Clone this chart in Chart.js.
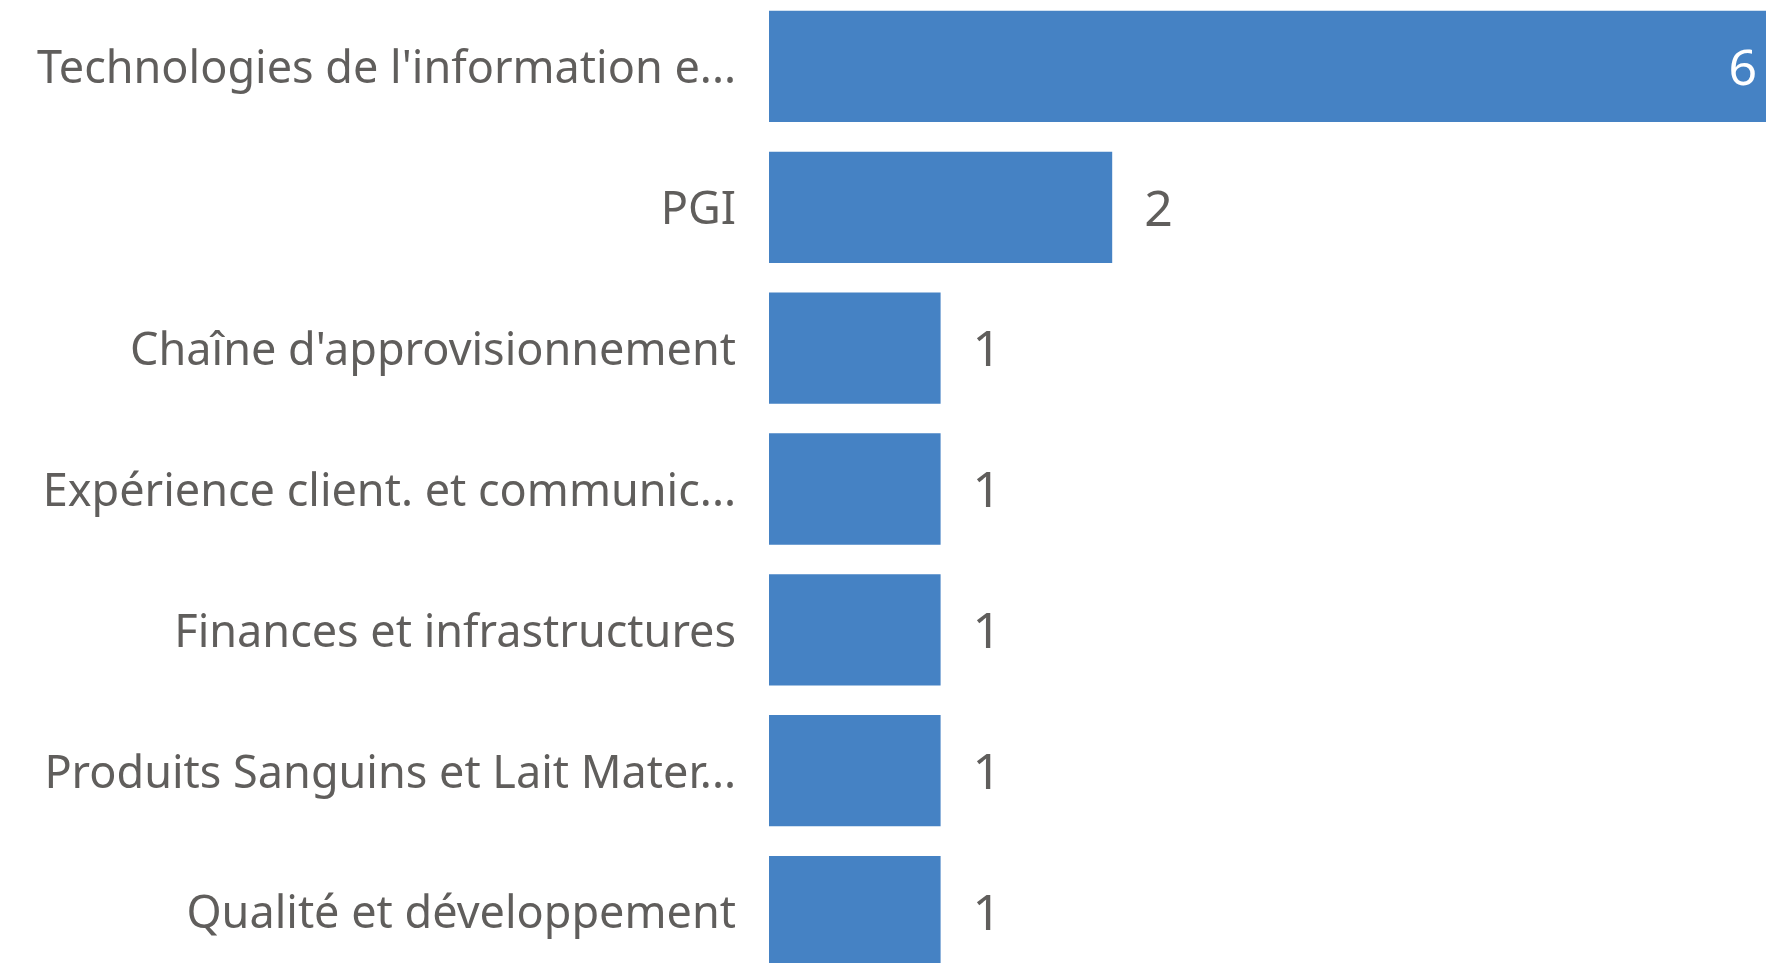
<!DOCTYPE html>
<html>
<head>
<meta charset="utf-8">
<script src="https://cdn.jsdelivr.net/npm/chart.js@4"></script>
<style>
  html, body { margin: 0; padding: 0; background: #fff; overflow: hidden; }
  #wrap { position: absolute; left: 0; top: -4px; width: 1766px; height: 986px; }
</style>
</head>
<body>
<div id="wrap"><canvas id="barChart"></canvas></div>
<script>
// categories as shown (already truncated in the picture)
var categories = [
  "Technologies de l'information e...",
  'PGI',
  "Chaîne d'approvisionnement",
  'Expérience client. et communic...',
  'Finances et infrastructures',
  'Produits Sanguins et Lait Mater...',
  'Qualité et développement'
];
var counts = [6, 2, 1, 1, 1, 1, 1];

var fontFamily = "'Noto Sans', 'Open Sans', sans-serif";
var labelColor = '#605E5C';
var barColor = '#4582C4';

// draws the value at the end of each bar; inside (white) when it would not fit
var valueLabels = {
  id: 'valueLabels',
  afterDatasetsDraw: function (chart) {
    var ctx = chart.ctx;
    var area = chart.chartArea;
    var meta = chart.getDatasetMeta(0);
    ctx.save();
    ctx.font = '50px ' + fontFamily;
    ctx.textBaseline = 'middle';
    meta.data.forEach(function (bar, i) {
      var txt = String(counts[i]);
      var w = ctx.measureText(txt).width;
      if (bar.x + 33 + w <= area.right) {
        ctx.fillStyle = labelColor;
        ctx.textAlign = 'left';
        ctx.fillText(txt, bar.x + 32, bar.y + 4);
      } else {
        ctx.fillStyle = '#ffffff';
        ctx.textAlign = 'right';
        ctx.fillText(txt, Math.min(bar.x, area.right) - 9, bar.y + 4);
      }
    });
    ctx.restore();
  }
};

var ctx = document.getElementById('barChart').getContext('2d');
var chart = new Chart(ctx, {
  type: 'bar',
  data: {
    labels: categories,
    datasets: [{
      data: counts,
      backgroundColor: barColor,
      borderWidth: 0,
      categoryPercentage: 1,
      barPercentage: 0.79
    }]
  },
  options: {
    indexAxis: 'y',
    responsive: true,
    maintainAspectRatio: false,
    animation: false,
    layout: { padding: 0 },
    plugins: {
      legend: { display: false },
      tooltip: { enabled: false }
    },
    scales: {
      x: {
        display: false,
        min: 0,
        max: 5.81
      },
      y: {
        grid: { display: false, drawTicks: false },
        border: { display: false },
        afterFit: function (scale) {
          scale.width = 769;
          scale.paddingTop = 0;
          scale.paddingBottom = 0;
        },
        ticks: {
          autoSkip: false,
          padding: 33,
          labelOffset: 4,
          color: labelColor,
          font: { family: fontFamily, size: 45 }
        }
      }
    }
  },
  plugins: [valueLabels]
});
</script>
</body>
</html>
